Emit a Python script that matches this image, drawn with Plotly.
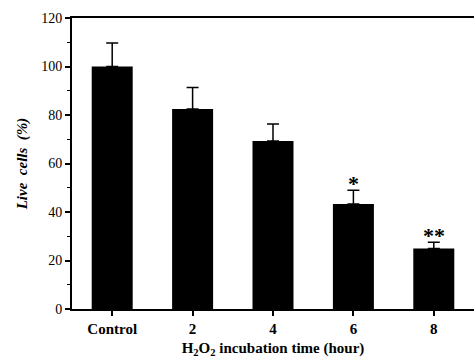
import plotly.graph_objects as go

categories = ["Control", "2", "4", "6", "8"]
live_cells = [100, 82.5, 69.3, 43.3, 25.0]
errors = [9.7, 8.8, 7.0, 5.7, 2.5]
signif = ["", "", "", "*", "**"]

FONT = "Liberation Serif"

fig = go.Figure()
fig.add_trace(go.Bar(
    x=categories, y=live_cells,
    marker=dict(color="black", line=dict(width=0)),
    width=0.51,
    error_y=dict(type="data", array=errors, arrayminus=[0]*5, symmetric=False,
                 color="black", thickness=1.5, width=6),
))
for i, (v, e, s) in enumerate(zip(live_cells, errors, signif)):
    if s:
        fig.add_annotation(x=i, y=v + e, text="<b>" + s + "</b>", showarrow=False,
                           yanchor="bottom", yshift=-8,
                           font=dict(family=FONT, size=22, color="black"))

fig.update_layout(
    width=474, height=361,
    margin=dict(l=72, r=0, t=18, b=52),
    plot_bgcolor="white", paper_bgcolor="white",
    showlegend=False,
    font=dict(family=FONT, color="black"),
)
fig.update_xaxes(
    type="category", automargin=False, range=[-0.5, 4.5],
    showline=True, linecolor="black", linewidth=2, mirror=True,
    ticks="outside", ticklen=5, tickwidth=1.5, tickcolor="black",
    tickfont=dict(family=FONT, size=15, color="black"),
    tickprefix="<b>", ticksuffix="</b>",
    title=dict(text="<b>H<sub>2</sub>O<sub>2</sub> incubation time (hour)</b>",
               font=dict(family=FONT, size=15, color="black"), standoff=6),
    showgrid=False,
)
fig.update_yaxes(
    range=[0, 120], tickvals=[0, 20, 40, 60, 80, 100, 120], automargin=False,
    showline=True, linecolor="black", linewidth=2,
    ticks="outside", ticklen=5, tickwidth=1.5, tickcolor="black",
    minor=dict(ticks="outside", ticklen=3, tickwidth=1, tickcolor="black", dtick=10),
    tickfont=dict(family=FONT, size=14, color="black"),
    tickprefix="<b>", ticksuffix="</b>",
    title=dict(text="<b><i>Live&nbsp; cells&nbsp; (%)</i></b>",
               font=dict(family=FONT, size=15, color="black"), standoff=10),
    showgrid=False, zeroline=False,
)

fig.write_html("out.html", config={"displayModeBar": False},
               post_script="document.body.style.margin='0';")
